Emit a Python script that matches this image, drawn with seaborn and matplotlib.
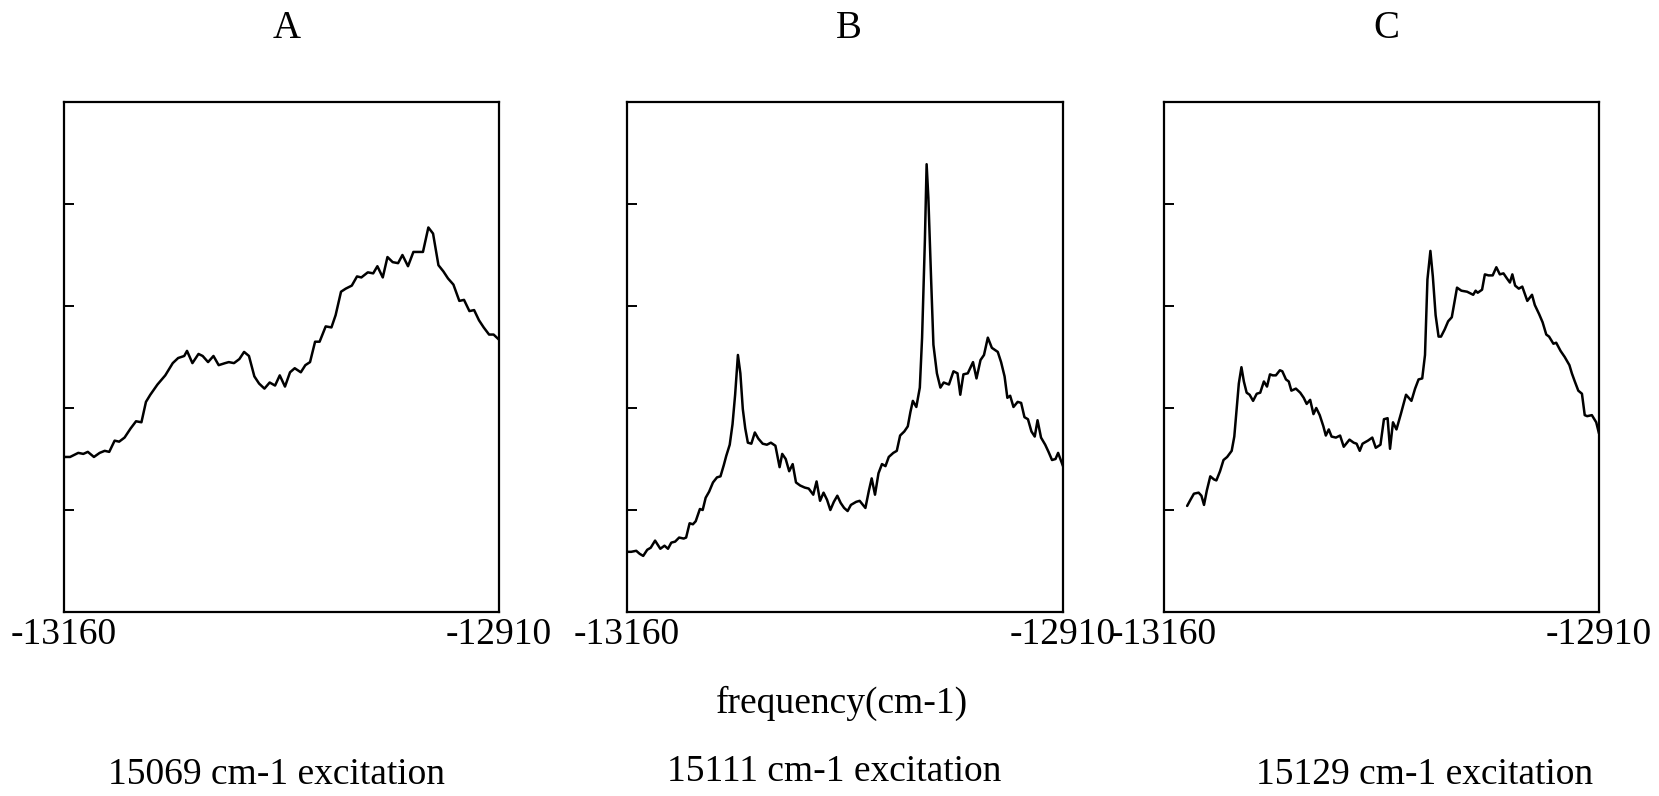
import matplotlib
matplotlib.use("Agg")
import matplotlib.pyplot as plt
import seaborn as sns
import pandas as pd

# ---------------- data ----------------
x_ticks = [-13160, -13110, -13060, -13010, -12960, -12910]
x_tick_labels = ["-13160", "", "", "", "", "-12910"]
y_ticks = [1, 2, 3, 4]
panel_titles = ["A", "B", "C"]
excitations = ["15069 cm-1 excitation", "15111 cm-1 excitation", "15129 cm-1 excitation"]
x_label = "frequency(cm-1)"

freq_A = [-13160, -13156.5, -13151.8, -13148.9, -13146.3, -13142.8, -13139.5, -13136.6, -13134.0, -13130.9,
          -13128.3, -13125.2, -13121.7, -13118.6, -13115.5, -13112.9, -13110.4, -13106.3, -13101.8, -13097.5,
          -13094.4, -13090.9, -13089.3, -13086.2, -13082.7, -13080.3, -13077.2, -13074.1, -13071.1, -13067.4,
          -13065.3, -13062.3, -13059.2, -13056.5, -13053.7, -13050.6, -13047.9, -13044.8, -13041.8, -13038.7,
          -13036.0, -13033.0, -13030.1, -13027.4, -13023.9, -13021.3, -13018.6, -13015.7, -13013.1, -13009.6,
          -13006.3, -13003.9, -13000.8, -12998.1, -12994.6, -12991.6, -12989.1, -12985.4, -12982.3, -12979.9,
          -12976.8, -12974.1, -12971.1, -12968.0, -12965.5, -12962.3, -12959.2, -12956.3, -12953.7, -12950.6,
          -12947.9, -12944.8, -12942.0, -12939.3, -12936.2, -12932.8, -12930.1, -12927.0, -12924.3, -12921.5,
          -12918.8, -12915.7, -12913.1, -12910]
int_A = [1.52, 1.52, 1.56, 1.55, 1.57, 1.52, 1.56, 1.58, 1.57, 1.68,
         1.67, 1.71, 1.80, 1.87, 1.86, 2.06, 2.13, 2.23, 2.32, 2.44,
         2.49, 2.51, 2.56, 2.44, 2.53, 2.51, 2.45, 2.51, 2.42, 2.44,
         2.45, 2.44, 2.48, 2.55, 2.51, 2.31, 2.24, 2.19, 2.25, 2.22,
         2.32, 2.21, 2.35, 2.39, 2.35, 2.42, 2.45, 2.65, 2.65, 2.80,
         2.79, 2.91, 3.14, 3.17, 3.20, 3.29, 3.28, 3.33, 3.32, 3.39,
         3.28, 3.48, 3.43, 3.42, 3.50, 3.39, 3.53, 3.53, 3.53, 3.77,
         3.71, 3.40, 3.34, 3.27, 3.21, 3.05, 3.06, 2.95, 2.96, 2.86,
         2.79, 2.72, 2.72, 2.67]

freq_B = [-13160, -13157.6, -13154.7, -13152.7, -13150.7, -13148.4, -13146.4, -13143.9, -13140.9, -13138.5,
          -13136.5, -13134.6, -13132.4, -13130.1, -13127.5, -13126.1, -13124.1, -13122.2, -13120.6, -13118.2,
          -13116.6, -13114.9, -13112.9, -13110.7, -13108.4, -13106.4, -13104.5, -13103.1, -13101.1, -13099.5,
          -13098.0, -13096.4, -13095.0, -13093.6, -13092.2, -13090.7, -13088.7, -13086.7, -13084.7, -13082.2,
          -13079.8, -13077.5, -13074.9, -13072.5, -13071.0, -13069.0, -13067.0, -13065.0, -13063.1, -13060.7,
          -13058.1, -13055.8, -13053.2, -13051.3, -13049.3, -13047.3, -13045.3, -13043.4, -13041.4, -13039.4,
          -13037.5, -13035.5, -13033.5, -13031.6, -13028.6, -13026.6, -13023.3, -13021.3, -13019.7, -13017.8,
          -13015.8, -13013.8, -13011.8, -13009.9, -13007.3, -13005.3, -13003.4, -13001.0, -12999.0, -12997.5,
          -12996.1, -12994.1, -12992.1, -12990.8, -12989.2, -12988.2, -12987.2, -12985.6, -12984.3, -12982.3,
          -12980.3, -12978.4, -12975.4, -12972.8, -12970.5, -12968.9, -12967.1, -12964.6, -12961.6, -12959.6,
          -12957.3, -12955.3, -12953.1, -12950.8, -12947.4, -12945.5, -12943.5, -12941.9, -12940.3, -12938.4,
          -12936.0, -12934.0, -12932.1, -12930.1, -12928.1, -12926.2, -12924.6, -12922.6, -12920.2, -12918.3,
          -12916.3, -12914.3, -12912.8, -12910]
int_B = [0.59, 0.59, 0.60, 0.57, 0.55, 0.61, 0.63, 0.70, 0.62, 0.65,
         0.62, 0.68, 0.69, 0.73, 0.72, 0.73, 0.87, 0.86, 0.89, 1.01,
         1.00, 1.12, 1.18, 1.27, 1.32, 1.33, 1.44, 1.53, 1.64, 1.84,
         2.13, 2.52, 2.34, 1.99, 1.80, 1.66, 1.65, 1.76, 1.70, 1.65,
         1.64, 1.66, 1.63, 1.42, 1.55, 1.50, 1.38, 1.45, 1.27, 1.24,
         1.22, 1.21, 1.15, 1.28, 1.09, 1.17, 1.10, 1.00, 1.08, 1.14,
         1.07, 1.02, 0.99, 1.05, 1.08, 1.09, 1.02, 1.19, 1.31, 1.15,
         1.36, 1.45, 1.43, 1.52, 1.56, 1.58, 1.73, 1.77, 1.82, 1.96,
         2.07, 2.01, 2.20, 2.69, 3.64, 4.39, 4.06, 3.25, 2.62, 2.34,
         2.20, 2.25, 2.23, 2.36, 2.34, 2.13, 2.33, 2.34, 2.45, 2.29,
         2.47, 2.52, 2.69, 2.59, 2.55, 2.45, 2.31, 2.10, 2.12, 2.01,
         2.06, 2.05, 1.91, 1.89, 1.77, 1.72, 1.88, 1.71, 1.64, 1.57,
         1.49, 1.50, 1.56, 1.43]

freq_C = [-13146.7, -13144.8, -13142.8, -13140.1, -13138.5, -13137.0, -13135.4, -13133.4, -13131.3, -13129.9,
          -13127.8, -13125.8, -13123.7, -13121.1, -13119.6, -13118.2, -13117.0, -13115.5, -13114.1, -13112.5,
          -13110.8, -13108.8, -13106.7, -13104.7, -13102.6, -13100.8, -13099.1, -13097.5, -13095.7, -13093.4,
          -13092.0, -13089.9, -13088.3, -13086.8, -13084.2, -13081.7, -13079.7, -13078.0, -13076.0, -13074.1,
          -13072.5, -13070.5, -13068.4, -13067.0, -13065.3, -13063.7, -13061.2, -13058.8, -13056.7, -13053.4,
          -13051.0, -13049.3, -13047.5, -13045.9, -13042.8, -13040.3, -13038.3, -13035.6, -13033.6, -13031.5,
          -13030.1, -13028.4, -13026.4, -13023.9, -13020.9, -13017.8, -13015.7, -13013.7, -13011.6, -13010.0,
          -13008.6, -13006.9, -13005.5, -13003.9, -13002.2, -13000.8, -12998.7, -12996.7, -12994.6, -12991.6,
          -12989.1, -12985.8, -12982.3, -12980.9, -12979.7, -12977.2, -12975.6, -12973.5, -12971.1, -12969.0,
          -12967.0, -12964.9, -12962.9, -12961.2, -12959.8, -12958.2, -12956.1, -12954.1, -12951.2, -12948.5,
          -12946.9, -12944.4, -12942.4, -12940.3, -12938.7, -12936.2, -12934.6, -12932.1, -12929.7, -12927.0,
          -12925.6, -12923.9, -12921.9, -12919.8, -12918.2, -12916.8, -12914.1, -12911.6, -12910]
int_C = [1.04, 1.10, 1.16, 1.17, 1.14, 1.05, 1.19, 1.33, 1.30, 1.29,
         1.38, 1.49, 1.52, 1.58, 1.72, 2.00, 2.24, 2.40, 2.26, 2.15,
         2.13, 2.07, 2.14, 2.15, 2.26, 2.21, 2.33, 2.32, 2.32, 2.37,
         2.36, 2.28, 2.26, 2.17, 2.19, 2.15, 2.10, 2.04, 2.08, 1.94,
         2.00, 1.93, 1.82, 1.73, 1.79, 1.72, 1.71, 1.73, 1.62, 1.69,
         1.66, 1.65, 1.58, 1.65, 1.68, 1.71, 1.61, 1.64, 1.89, 1.90,
         1.60, 1.86, 1.79, 1.94, 2.13, 2.07, 2.19, 2.28, 2.29, 2.52,
         3.26, 3.54, 3.29, 2.91, 2.70, 2.70, 2.77, 2.85, 2.89, 3.18,
         3.15, 3.14, 3.11, 3.15, 3.13, 3.16, 3.31, 3.30, 3.30, 3.38,
         3.31, 3.32, 3.27, 3.23, 3.31, 3.20, 3.17, 3.19, 3.05, 3.11,
         3.01, 2.92, 2.84, 2.72, 2.70, 2.63, 2.64, 2.56, 2.50, 2.42,
         2.34, 2.26, 2.17, 2.14, 1.93, 1.92, 1.93, 1.86, 1.75]

# ---------------- style ----------------
sns.set_theme(style="white")
plt.rcParams["font.family"] = ["Liberation Serif", "DejaVu Serif"]
plt.rcParams["text.color"] = "black"
plt.rcParams["xtick.color"] = "black"
plt.rcParams["ytick.color"] = "black"
plt.rcParams["axes.labelcolor"] = "black"

W, H = 1659, 796
fig = plt.figure(figsize=(W / 100, H / 100), dpi=100)
fig.patch.set_facecolor("white")

# axes boxes in pixels: (left, right)
boxes = [(64, 499), (627, 1063), (1164, 1599)]
top_px, bot_px = 102, 612
title_x = [287, 849, 1386]
exc_x = [276, 834, 1425]
exc_y = [775, 772, 775]

series = [(freq_A, int_A), (freq_B, int_B), (freq_C, int_C)]

for i, ((l, r), (fx, fy)) in enumerate(zip(boxes, series)):
    ax = fig.add_axes([l / W, (H - bot_px) / H, (r - l) / W, (bot_px - top_px) / H])
    df = pd.DataFrame({"freq": fx, "intensity": fy})
    sns.lineplot(data=df, x="freq", y="intensity", ax=ax, color="black",
                 linewidth=1.8, sort=False, estimator=None)
    ax.set_xlim(-13160, -12910)
    ax.set_ylim(0, 5)
    ax.set_xticks(x_ticks)
    ax.set_xticklabels(x_tick_labels, fontsize=27, color="black")
    ax.set_yticks(y_ticks)
    ax.set_yticklabels([])
    ax.tick_params(axis="x", direction="in", length=5, width=1.4, pad=4, colors="black")
    ax.tick_params(axis="y", direction="in", length=7, width=1.4, left=True, colors="black")
    ax.set_xlabel("")
    ax.set_ylabel("")
    for s in ax.spines.values():
        s.set_visible(True)
        s.set_color("black")
        s.set_linewidth(1.6)
    fig.text(title_x[i] / W, 1 - 29 / H, panel_titles[i], ha="center", va="center",
             fontsize=28, color="black")
    fig.text(exc_x[i] / W, 1 - exc_y[i] / H, excitations[i], ha="center", va="center",
             fontsize=27, color="black")

fig.text(842 / W, 1 - 703 / H, x_label, ha="center", va="center", fontsize=27, color="black")

fig.savefig("out.png", dpi=100, facecolor="white")
